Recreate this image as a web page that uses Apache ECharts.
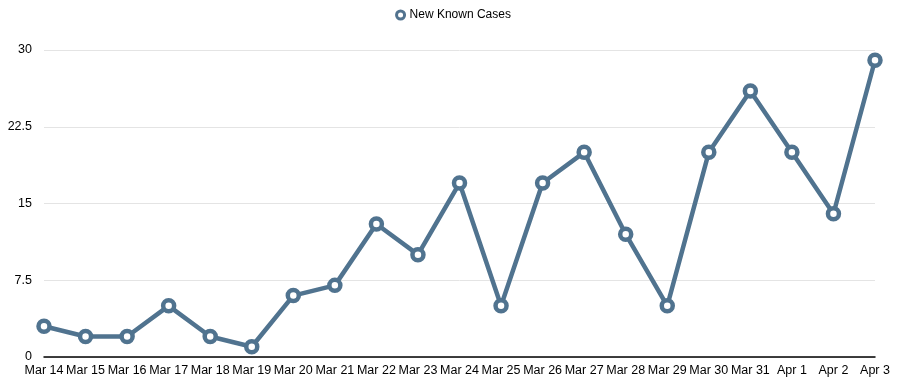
<!DOCTYPE html>
<html><head><meta charset="utf-8">
<script src="https://cdn.jsdelivr.net/npm/echarts@6/dist/echarts.min.js"></script>
<style>html,body{margin:0;padding:0;background:#fff}#c{width:906px;height:386px}</style>
</head><body><div id="c"></div>
<script>
const categories = ["Mar 14","Mar 15","Mar 16","Mar 17","Mar 18","Mar 19","Mar 20","Mar 21","Mar 22","Mar 23","Mar 24","Mar 25","Mar 26","Mar 27","Mar 28","Mar 29","Mar 30","Mar 31","Apr 1","Apr 2","Apr 3"];
const newKnownCases = [3,2,2,5,2,1,6,7,13,10,17,5,17,20,12,5,20,26,20,14,29];
const seriesName = "New Known Cases";
const chart = echarts.init(document.getElementById('c'), null, {renderer:'canvas'});
const font = "'Liberation Sans', Arial, sans-serif";
chart.setOption({
  animation:false,
  textStyle:{fontFamily:font},
  legend:{top:4,left:'center',itemWidth:8,itemHeight:8,itemGap:10,
    textStyle:{fontSize:12,color:'#000',fontFamily:font},
    data:[{name:seriesName,icon:'circle',itemStyle:{color:'#fff',borderColor:'#52738f',borderWidth:3}}]},
  grid:{left:44,right:31,top:50,bottom:29,containLabel:false},
  xAxis:{type:'category',data:categories,boundaryGap:false,
    axisLine:{lineStyle:{color:'#000',width:1.5}},axisTick:{show:false},
    axisLabel:{color:'#000',fontSize:12.5,margin:7,interval:0,fontFamily:font},
    splitLine:{show:false}},
  yAxis:{type:'value',min:0,max:30,interval:7.5,
    axisLine:{show:false},axisTick:{show:false},
    axisLabel:{color:'#000',fontSize:12.5,margin:12,fontFamily:font},
    splitLine:{lineStyle:{color:'#e4e4e4',width:1}}},
  series:[{name:seriesName,type:'line',data:newKnownCases,
    lineStyle:{color:'#50738f',width:4.5},
    itemStyle:{color:'#fff',borderColor:'#50738f',borderWidth:4.5},
    symbol:'circle',symbolSize:11}]
});
</script></body></html>
